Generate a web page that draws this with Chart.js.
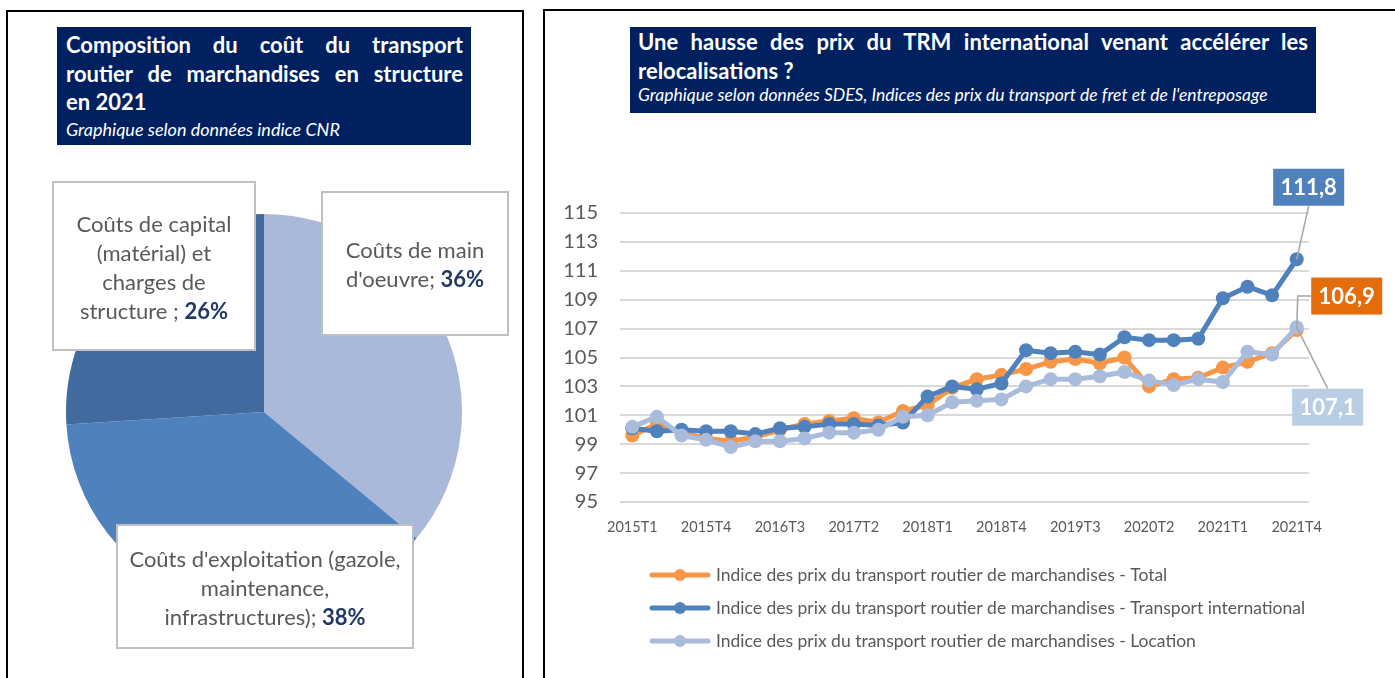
<!DOCTYPE html>
<html>
<head>
<meta charset="utf-8">
<script src="https://cdn.jsdelivr.net/npm/chart.js@4.4.0/dist/chart.umd.min.js"></script>
<style>
  body { margin: 0; width: 1395px; height: 678px; overflow: hidden; background: #fff; font-family: Lato, sans-serif; }
  .panel { position: absolute; border: 2px solid #000; box-sizing: border-box; background: #fff; }
  .title { position: absolute; background: #002060; color: #fff; box-sizing: border-box; }
  .title .h { font-weight: bold; font-size: 22px; line-height: 28.5px; white-space: nowrap; }
  .title .j { text-align: justify; text-align-last: justify; }
  .title .s { font-style: italic; line-height: 20px; white-space: nowrap; }
  canvas { position: absolute; }
</style>
</head>
<body>
<div class="panel" style="left:6px;top:10px;width:518px;height:720px"></div>
<div class="panel" style="left:543px;top:9px;width:880px;height:720px"></div>

<div class="title" style="left:57px;top:27px;width:414px;height:118px;padding:4px 8px 0 9px">
  <div class="h j">Composition du coût du transport</div>
  <div class="h j">routier de marchandises en structure</div>
  <div class="h">en 2021</div>
  <div class="s" style="font-size:18px;margin-top:2px">Graphique selon données indice CNR</div>
</div>

<div class="title" style="left:630px;top:27px;width:686px;height:86px;padding:1px 8px 0 8px">
  <div class="h j">Une hausse des prix du TRM international venant accélérer les</div>
  <div class="h">relocalisations ?</div>
  <div class="s" style="font-size:17.5px;margin-top:0">Graphique selon données SDES, Indices des prix du transport de fret et de l'entreposage</div>
</div>

<canvas id="pieChart" width="490" height="510" style="left:20px;top:160px"></canvas>
<canvas id="lineChart" width="848" height="556" style="left:545px;top:120px"></canvas>

<script>
// ---- pie data
const pieCategories = ["Coûts de main d'oeuvre", "Coûts d'exploitation (gazole, maintenance, infrastructures)", "Coûts de capital (matérial) et charges de structure"]
const pieValues = [36, 38, 26]
const pieColors = ['#AAB9D9', '#4F81BD', '#416B9E']
// how the labels wrap in their boxes
const pieLabelLines = [
  ['Coûts de main', "d'oeuvre; "],
  ["Coûts d'exploitation (gazole,", 'maintenance,', 'infrastructures); '],
  ['Coûts de capital', '(matérial) et', 'charges de', 'structure ; ']
]

// ---- line data
const quarters = [
  '2015T1', '2015T2', '2015T3', '2015T4', '2016T1', '2016T2', '2016T3', '2016T4',
  '2017T1', '2017T2', '2017T3', '2017T4', '2018T1', '2018T2', '2018T3', '2018T4',
  '2019T1', '2019T2', '2019T3', '2019T4', '2020T1', '2020T2', '2020T3', '2020T4',
  '2021T1', '2021T2', '2021T3', '2021T4'
]
const seriesNames = [
  'Indice des prix du transport routier de marchandises - Total',
  'Indice des prix du transport routier de marchandises - Transport international',
  'Indice des prix du transport routier de marchandises - Location'
]
const totalIdx = [99.6, 100.4, 99.8, 99.4, 99.2, 99.5, 100.0, 100.4, 100.6, 100.8, 100.5, 101.3, 101.7, 102.9,
  103.5, 103.8, 104.2, 104.7, 104.9, 104.6, 105.0, 103.0, 103.5, 103.6, 104.3, 104.7, 105.3, 106.9]
const internationalIdx = [100.1, 99.9, 100.0, 99.9, 99.9, 99.7, 100.1, 100.2, 100.4, 100.4, 100.3, 100.5, 102.3, 103.0,
  102.8, 103.2, 105.5, 105.3, 105.4, 105.2, 106.4, 106.2, 106.2, 106.3, 109.1, 109.9, 109.3, 111.8]
const locationIdx = [100.2, 100.9, 99.6, 99.3, 98.8, 99.2, 99.2, 99.4, 99.8, 99.8, 100.0, 100.9, 101.0, 101.9,
  102.0, 102.1, 103.0, 103.5, 103.5, 103.7, 104.0, 103.4, 103.1, 103.5, 103.3, 105.4, 105.2, 107.1]
const yMin = 95
const yMax = 115
const yStep = 2

const GREY_TEXT = '#595959'
const NAVY = '#1F3864'

// ---------- pie chart
// label boxes, offsets from the pie centre
const pieBoxes = [
  { dx: 58, dy: -220, w: 186, h: 143 },
  { dx: -147, dy: 113, w: 296, h: 123 },
  { dx: -211, dy: -230, w: 202, h: 168 }
]

const pieLabelPlugin = {
  id: 'pieLabelBoxes',
  afterDraw (chart) {
    const ctx = chart.ctx
    const arc = chart.getDatasetMeta(0).data[0]
    const cx = arc.x
    const cy = arc.y
    const lineH = 29
    const fs = 22
    ctx.save()
    pieValues.forEach((v, i) => {
      const b = pieBoxes[i]
      const x = cx + b.dx
      const y = cy + b.dy
      ctx.fillStyle = '#fff'
      ctx.fillRect(x, y, b.w, b.h)
      ctx.strokeStyle = '#BFBFBF'
      ctx.lineWidth = 2
      ctx.strokeRect(x, y, b.w, b.h)

      const lines = pieLabelLines[i]
      const midX = x + b.w / 2
      const firstY = y + b.h / 2 + 2 - (lines.length - 1) * lineH / 2
      ctx.textBaseline = 'middle'
      lines.forEach((txt, k) => {
        const ly = firstY + k * lineH
        ctx.font = fs + 'px Lato'
        if (k < lines.length - 1) {
          ctx.textAlign = 'center'
          ctx.fillStyle = GREY_TEXT
          ctx.fillText(txt, midX, ly)
        } else {
          const pct = v + '%'
          const w1 = ctx.measureText(txt).width
          ctx.font = 'bold ' + fs + 'px Lato'
          const w2 = ctx.measureText(pct).width
          const sx = midX - (w1 + w2) / 2
          ctx.textAlign = 'left'
          ctx.font = fs + 'px Lato'
          ctx.fillStyle = GREY_TEXT
          ctx.fillText(txt, sx, ly)
          ctx.font = 'bold ' + fs + 'px Lato'
          ctx.fillStyle = NAVY
          ctx.fillText(pct, sx + w1, ly)
        }
      })
    })
    ctx.restore()
  }
}

new Chart(document.getElementById('pieChart').getContext('2d'), {
  type: 'pie',
  data: {
    labels: pieCategories,
    datasets: [{
      data: pieValues,
      backgroundColor: pieColors,
      borderWidth: 0
    }]
  },
  options: {
    responsive: false,
    animation: false,
    layout: { padding: { left: 46, right: 48, top: 54, bottom: 60 } },
    plugins: { legend: { display: false }, tooltip: { enabled: false } }
  },
  plugins: [pieLabelPlugin]
})

// ---------- line chart
const seriesColors = ['#F79646', '#4F81BD', '#A9BCDC']
const endBoxColors = ['#E46C0A', '#4F81BD', '#B9CDE5']
// end label boxes, offsets from the last point
const endBoxes = [
  { dx: 50, dy: -34, elbow: true },
  { dx: 12, dy: -72 },
  { dx: 31, dy: 80 }
]

const endLabelPlugin = {
  id: 'endLabels',
  afterDatasetsDraw (chart) {
    const ctx = chart.ctx
    const bw = 71
    const bh = 37
    ctx.save()
    chart.data.datasets.forEach((ds, i) => {
      const meta = chart.getDatasetMeta(i)
      const pt = meta.data[meta.data.length - 1]
      const b = endBoxes[i]
      const bx = pt.x + b.dx
      const by = pt.y + b.dy
      // leader line
      ctx.strokeStyle = '#A6A6A6'
      ctx.lineWidth = 1.5
      ctx.beginPath()
      if (b.elbow) {
        ctx.moveTo(pt.x, pt.y)
        ctx.lineTo(pt.x + 1, by)
        ctx.lineTo(bx - bw / 2, by)
      } else if (b.dy < 0) {
        ctx.moveTo(pt.x, pt.y)
        ctx.lineTo(bx, by + bh / 2)
      } else {
        ctx.moveTo(pt.x, pt.y)
        ctx.lineTo(bx, by - bh / 2)
      }
      ctx.stroke()
      ctx.fillStyle = endBoxColors[i]
      ctx.fillRect(bx - bw / 2, by - bh / 2, bw, bh)
      ctx.fillStyle = '#fff'
      ctx.font = 'bold 22px Lato'
      ctx.textAlign = 'center'
      ctx.textBaseline = 'middle'
      const val = ds.data[ds.data.length - 1]
      ctx.fillText(val.toFixed(1).replace('.', ','), bx, by + 1)
    })
    ctx.restore()
  }
}

// legend drawn as a left-aligned column
const legendPlugin = {
  id: 'columnLegend',
  afterDraw (chart) {
    const ctx = chart.ctx
    const x0 = 107
    const top = chart.chartArea.bottom + 73
    ctx.save()
    chart.data.datasets.forEach((ds, i) => {
      const y = top + i * 33
      ctx.strokeStyle = ds.borderColor
      ctx.lineWidth = 5
      ctx.lineCap = 'round'
      ctx.beginPath()
      ctx.moveTo(x0, y)
      ctx.lineTo(x0 + 56, y)
      ctx.stroke()
      ctx.fillStyle = ds.borderColor
      ctx.beginPath()
      ctx.arc(x0 + 28, y, 6, 0, Math.PI * 2)
      ctx.fill()
      ctx.fillStyle = GREY_TEXT
      ctx.font = '17.5px Lato'
      ctx.textAlign = 'left'
      ctx.textBaseline = 'middle'
      ctx.fillText(ds.label, x0 + 64, y)
    })
    ctx.restore()
  }
}

const seriesData = [totalIdx, internationalIdx, locationIdx]
const drawOrder = [3, 2, 1]

new Chart(document.getElementById('lineChart').getContext('2d'), {
  type: 'line',
  data: {
    labels: quarters,
    datasets: seriesNames.map((name, i) => ({
      label: name,
      data: seriesData[i],
      borderColor: seriesColors[i],
      backgroundColor: seriesColors[i],
      pointBackgroundColor: seriesColors[i],
      pointBorderWidth: 0,
      pointRadius: 7,
      borderWidth: 5,
      tension: 0,
      order: drawOrder[i]
    }))
  },
  options: {
    responsive: false,
    animation: false,
    layout: { padding: { left: 0, right: 84, top: 93, bottom: 134 } },
    plugins: { legend: { display: false }, tooltip: { enabled: false } },
    scales: {
      x: {
        offset: true,
        grid: { display: false, drawTicks: false },
        border: { display: false },
        afterFit (scale) { scale.height = 40 },
        ticks: {
          autoSkip: false,
          maxRotation: 0,
          padding: 17,
          color: GREY_TEXT,
          font: { family: 'Lato', size: 14.5 },
          callback: (v, i) => (i % 3 === 0 ? quarters[i] : '')
        }
      },
      y: {
        min: yMin,
        max: yMax,
        afterFit (scale) { scale.width = 75 },
        grid: { color: '#D9D9D9', lineWidth: 2, drawTicks: false },
        border: { display: false },
        ticks: {
          stepSize: yStep,
          padding: 22,
          color: GREY_TEXT,
          font: { family: 'Lato', size: 20 }
        }
      }
    }
  },
  plugins: [endLabelPlugin, legendPlugin]
})
</script>
</body>
</html>
